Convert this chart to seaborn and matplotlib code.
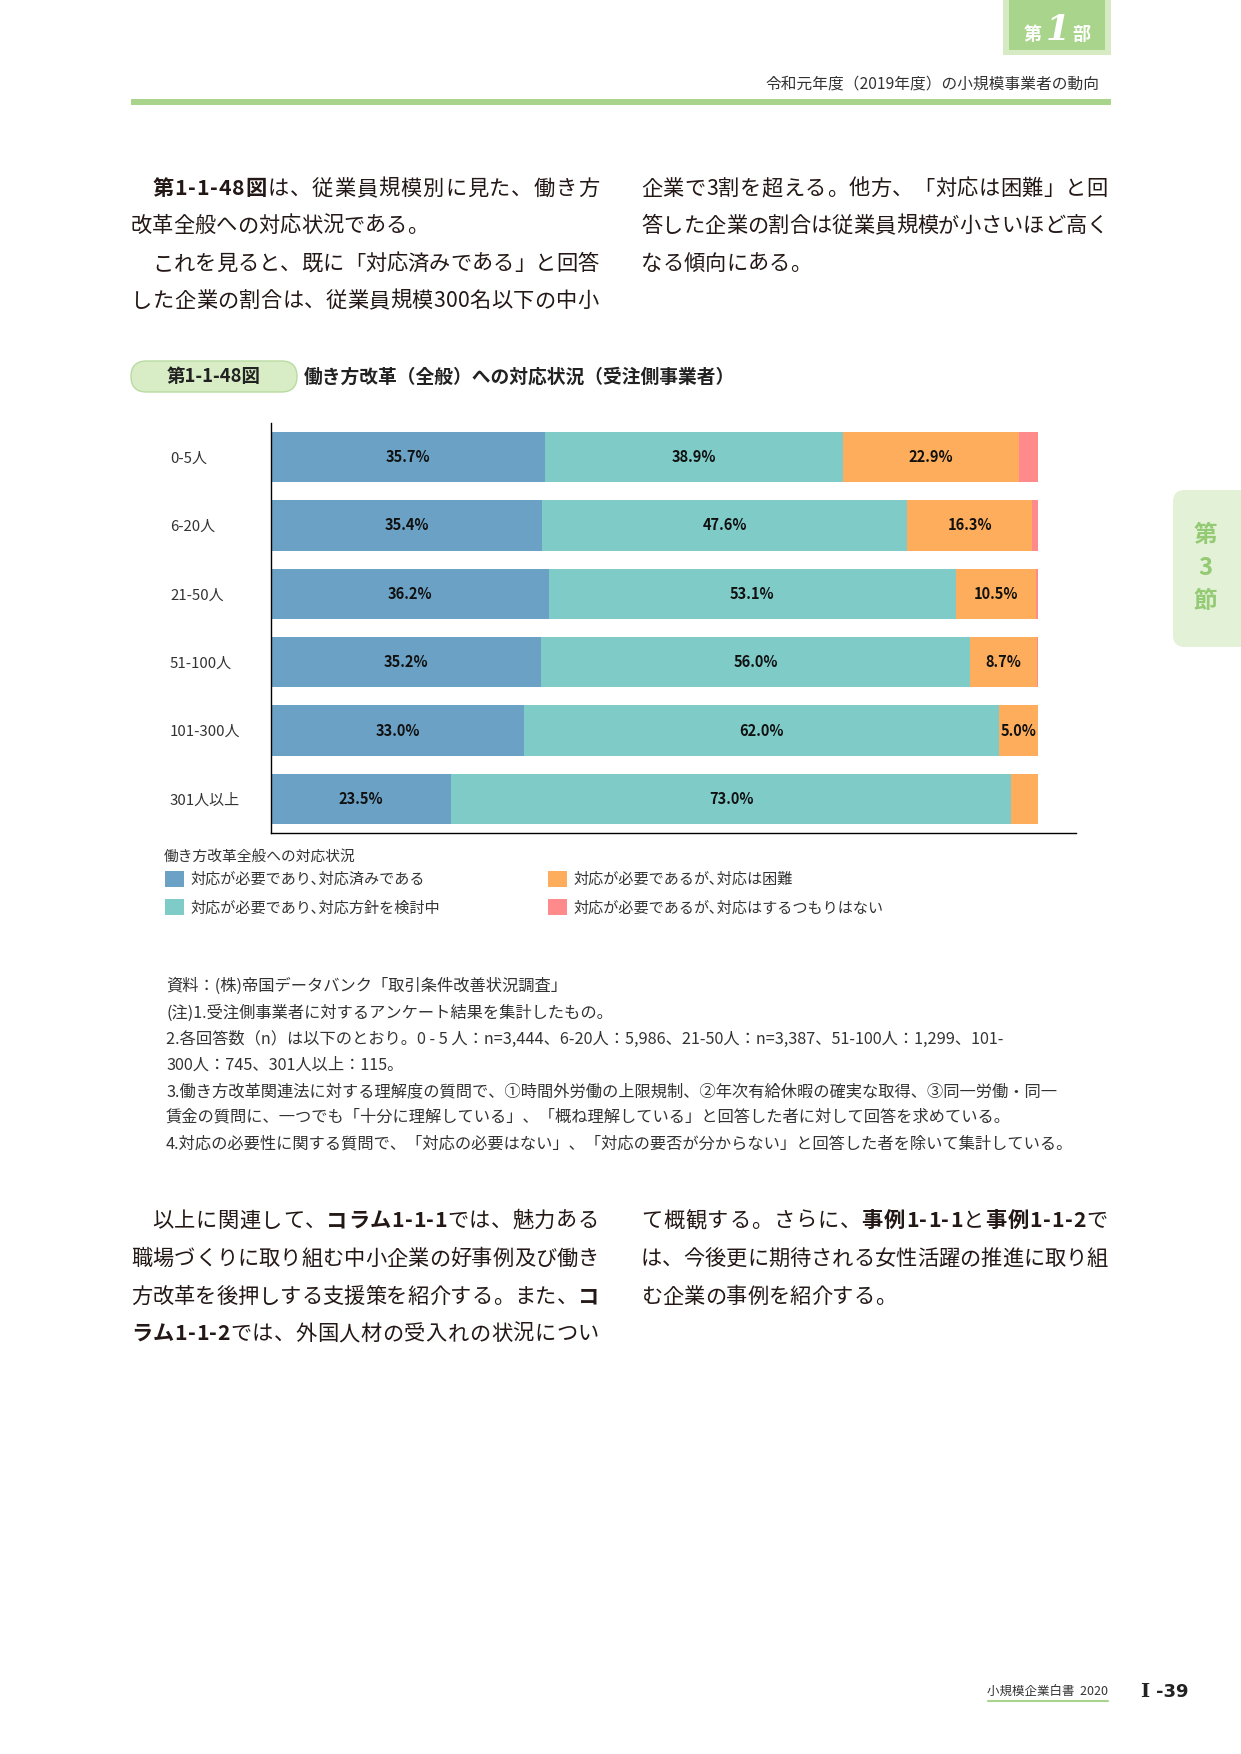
import matplotlib
matplotlib.use("Agg")
import matplotlib.pyplot as plt
import seaborn as sns
import numpy as np
from matplotlib.patches import FancyBboxPatch, Rectangle, Patch

# ---------------- data ----------------
categories = ["0-5人", "6-20人", "21-50人", "51-100人", "101-300人", "301人以上"]
series_labels = ["対応が必要であり､対応済みである",
                 "対応が必要であり､対応方針を検討中",
                 "対応が必要であるが､対応は困難",
                 "対応が必要であるが､対応はするつもりはない"]
done = [35.7, 35.4, 36.2, 35.2, 33.0, 23.5]
considering = [38.9, 47.6, 53.1, 56.0, 62.0, 73.0]
difficult = [22.9, 16.3, 10.5, 8.7, 5.0, 3.5]
no_plan = [2.5, 0.7, 0.2, 0.1, 0.0, 0.0]
legend_title = "働き方改革全般への対応状況"
colors = ["#6aa1c4", "#7ecbc8", "#fdad5b", "#fe8a8b"]

header_sub = "令和元年度（2019年度）の小規模事業者の動向"
fig_no = "第1-1-48図"
fig_title = "働き方改革（全般）への対応状況（受注側事業者）"

top_left = [
    ([("第1-1-48図", "bold"), ("は、従業員規模別に見た、働き方", "normal")], True, True),
    ([("改革全般への対応状況である。", "normal")], False, False),
    ([("これを見ると、既に「対応済みである」と回答", "normal")], True, True),
    ([("した企業の割合は、従業員規模300名以下の中小", "normal")], False, True),
]
top_right = [
    ([("企業で3割を超える。他方、「対応は困難」と回", "normal")], False, True),
    ([("答した企業の割合は従業員規模が小さいほど高く", "normal")], False, True),
    ([("なる傾向にある。", "normal")], False, False),
]
bottom_left = [
    ([("以上に関連して、", "normal"), ("コラム1-1-1", "bold"), ("では、魅力ある", "normal")], True, True),
    ([("職場づくりに取り組む中小企業の好事例及び働き", "normal")], False, True),
    ([("方改革を後押しする支援策を紹介する。また、", "normal"), ("コ", "bold")], False, True),
    ([("ラム1-1-2", "bold"), ("では、外国人材の受入れの状況につい", "normal")], False, True),
]
bottom_right = [
    ([("て概観する。さらに、", "normal"), ("事例1-1-1", "bold"), ("と", "normal"),
      ("事例1-1-2", "bold"), ("で", "normal")], False, True),
    ([("は、今後更に期待される女性活躍の推進に取り組", "normal")], False, True),
    ([("む企業の事例を紹介する。", "normal")], False, False),
]
notes = [
    "資料：(株)帝国データバンク「取引条件改善状況調査」",
    "(注)1.受注側事業者に対するアンケート結果を集計したもの。",
    "2.各回答数（n）は以下のとおり。0 - 5 人：n=3,444、6-20人：5,986、21-50人：n=3,387、51-100人：1,299、101-",
    "300人：745、301人以上：115。",
    "3.働き方改革関連法に対する理解度の質問で、①時間外労働の上限規制、②年次有給休暇の確実な取得、③同一労働・同一",
    "賃金の質問に、一つでも「十分に理解している」、「概ね理解している」と回答した者に対して回答を求めている。",
    "4.対応の必要性に関する質問で、「対応の必要はない」、「対応の要否が分からない」と回答した者を除いて集計している。",
]

# ---------------- setup ----------------
sns.set_theme(style="white")
plt.rcParams['font.family'] = ['Noto Sans CJK JP', 'DejaVu Sans']

W, H, DPI = 1241, 1754, 100
fig = plt.figure(figsize=(W / DPI, H / DPI), dpi=DPI)
fig.patch.set_facecolor("white")
pg = fig.add_axes([0, 0, 1, 1])
pg.set_xlim(0, W)
pg.set_ylim(H, 0)
pg.axis("off")
R = fig.canvas.get_renderer()

BODY = "#231815"
GREEN = "#a9d48c"

_wc = {}
def tw(s, size, weight="normal"):
    key = (s, size, weight)
    if key not in _wc:
        t = pg.text(0, 0, s, fontsize=size, fontweight=weight)
        _wc[key] = t.get_window_extent(renderer=R).width
        t.remove()
    return _wc[key]

def adv(c, size, wt):
    return tw("|" + c + "|", size, wt) - tw("||", size, wt)

def lsb(c, size, wt):
    return tw("|" + c + "|", size, wt) - tw(c + "|", size, wt) - (tw("||", size, wt) - tw("|", size, wt))

def body_line(x0, x1, yb, segs, size, indent, justify):
    chars = [(c, wt) for s, wt in segs for c in s]
    advs = [adv(c, size, wt) for c, wt in chars]
    start = x0 + (size * DPI / 72 if indent else 0)
    gap = (x1 - start - sum(advs)) / (len(chars) - 1) if (justify and len(chars) > 1) else 0
    x = start
    for (c, wt), a in zip(chars, advs):
        pg.text(x + lsb(c, size, wt), yb, c, fontsize=size, fontweight=wt,
                ha="left", va="baseline", color=BODY)
        x += a + gap

BODY_SIZE = 15.3
def paragraph(lines, x0, x1, baselines):
    for (segs, indent, justify), yb in zip(lines, baselines):
        body_line(x0, x1, yb, segs, BODY_SIZE, indent, justify)

# ---------------- header ----------------
pg.add_patch(Rectangle((1003, 0), 108, 55, fc="#d6ebc4", ec="none"))
pg.add_patch(Rectangle((1009, 0), 96, 50, fc=GREEN, ec="none"))
pg.text(1033, 34, "第", fontsize=13, fontweight="bold", color="white", ha="center", va="center")
pg.text(1058, 30, "1", fontsize=25, fontweight="bold", fontstyle="italic", color="white",
        ha="center", va="center", family=["DejaVu Serif"])
pg.text(1081, 35, "部", fontsize=13, fontweight="bold", color="white", ha="center", va="center")
pg.text(1099, 84, header_sub, fontsize=11.3, color="#333333", ha="right", va="center")
pg.add_patch(Rectangle((131, 99), 980, 6, fc=GREEN, ec="none"))

# side tab
pg.add_patch(FancyBboxPatch((1173, 490), 120, 157, boxstyle="round,pad=0,rounding_size=12",
                            fc="#e3f1d7", ec="none"))
for s, yy in zip(["第", "3", "節"], [535, 568, 601]):
    pg.text(1205, yy, s, fontsize=17, fontweight="bold", color="#93ca73", ha="center", va="center")

# ---------------- body text ----------------
paragraph(top_left, 131, 599, [195, 232, 270, 307])
paragraph(top_right, 641, 1108, [195, 232, 270])
paragraph(bottom_left, 131, 599, [1227, 1265, 1303, 1340])
paragraph(bottom_right, 641, 1108, [1227, 1265, 1303])

# ---------------- figure title ----------------
pg.add_patch(FancyBboxPatch((131, 361), 166, 31, boxstyle="round,pad=0,rounding_size=15.5",
                            fc="#d8edc6", ec="#b8dba0", lw=1))
pg.text(214, 377, fig_no, fontsize=13.3, fontweight="bold", color="#222222", ha="center", va="center")
pg.text(304, 377, fig_title, fontsize=13.5, fontweight="bold", color="#222222", ha="left", va="center")

# ---------------- chart ----------------
ax = fig.add_axes([271 / W, 1 - 833 / H, 805 / W, 410 / H])
vals = np.array([done, considering, difficult, no_plan])
cum = vals.cumsum(axis=0)
for k in reversed(range(4)):
    sns.barplot(x=cum[k], y=categories, orient="h", color=colors[k], saturation=1,
                width=0.74, errorbar=None, linewidth=0, ax=ax)
for k in range(3):
    for i, v in enumerate(vals[k]):
        if v >= 5:
            ax.text(cum[k][i] - v / 2, i, f"{v:.1f}%", ha="center", va="center",
                    fontsize=10.5, fontweight="bold", color="#111111")
ax.set_xlim(0, 105)
ax.set_ylim(5.5, -0.5)
ax.set_xlabel("")
ax.set_ylabel("")
ax.set_xticks([])
ax.set_facecolor("none")
for side in ["top", "right"]:
    ax.spines[side].set_visible(False)
for side in ["left", "bottom"]:
    ax.spines[side].set_color("black")
    ax.spines[side].set_linewidth(1.0)
ax.tick_params(axis="y", length=0, pad=72.7, labelsize=10.8, labelcolor="#333333")
for lbl in ax.get_yticklabels():
    lbl.set_ha("left")

# legend (title as separate text, entries as a 2-column legend)
pg.text(164, 857, legend_title, fontsize=10.6, color="#333333", ha="left", va="center")
handles = [Patch(facecolor=c, edgecolor="none") for c in colors]
leg = fig.legend(handles, series_labels, loc="upper left",
                 bbox_to_anchor=(165 / W, 1 - 871 / H), bbox_transform=fig.transFigure,
                 ncol=2, frameon=False,
                 fontsize=10.9, handlelength=1.25, handleheight=1.25,
                 handletextpad=0.45, columnspacing=7.1, labelspacing=0.75,
                 borderpad=0, borderaxespad=0, labelcolor="#333333")

# ---------------- notes ----------------
base = 11.0
nsize = base * 906 / tw(notes[6], base)
for s, yc in zip(notes, [985, 1012, 1038, 1064, 1090, 1116, 1143]):
    pg.text(166, yc + 0.36 * nsize * DPI / 72, s, fontsize=nsize, color="#333333",
            ha="left", va="baseline")

# ---------------- footer ----------------
pg.text(1108, 1691, "小規模企業白書  2020", fontsize=9, color="#333333", ha="right", va="center")
pg.plot([988, 1108], [1701, 1701], color=GREEN, lw=1.5)
pg.text(1140, 1692, "I", fontsize=14, fontweight="bold", color="#222222", ha="left", va="center",
        family=["DejaVu Serif"])
pg.text(1156, 1692, "-39", fontsize=13, fontweight="bold", color="#222222", ha="left", va="center",
        family=["DejaVu Sans"])

fig.savefig("out.png", dpi=DPI, facecolor="white")
